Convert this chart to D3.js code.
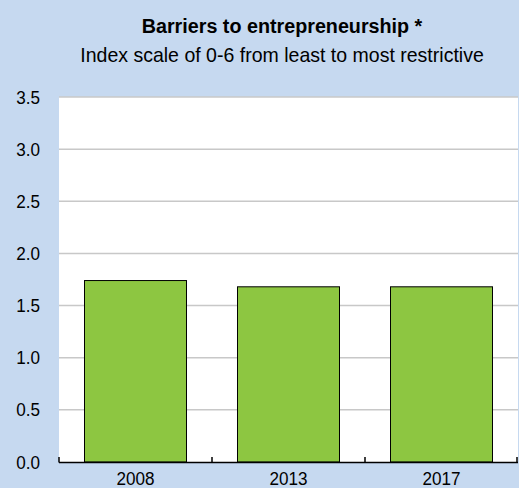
<!DOCTYPE html>
<html>
<head>
<meta charset="utf-8">
<script src="https://cdn.jsdelivr.net/npm/d3@7"></script>
<style>
    body { margin: 0; background: #c6d9f0; }
    svg { display: block; }
    text { font-family: "Liberation Sans", Arial, sans-serif; fill: #000; }
</style>
</head>
<body>
<div class="chart"></div>
<script>
const years = ["2008", "2013", "2017"];
const values = [1.74, 1.68, 1.68];
const yTicks = [0, 0.5, 1.0, 1.5, 2.0, 2.5, 3.0, 3.5];

const width = 519;
const height = 488;
const plot = {left: 59, right: 518, top: 97, bottom: 462};
const squeeze = 0.9; // the source font is a bit condensed

const svg = d3.select(".chart")
    .append("svg")
    .attr("width", width)
    .attr("height", height);

svg.append("rect")
    .attr("width", width)
    .attr("height", height)
    .attr("fill", "#c6d9f0");

// title block
svg.append("text")
    .attr("transform", "translate(282,33) scale(0.94,1)")
    .attr("text-anchor", "middle")
    .style("font-size", "21px")
    .style("font-weight", "bold")
    .text("Barriers to entrepreneurship *");

svg.append("text")
    .attr("transform", "translate(282,62) scale(0.93,1)")
    .attr("text-anchor", "middle")
    .style("font-size", "21px")
    .text("Index scale of 0-6 from least to most restrictive");

const x = d3.scaleBand()
    .domain(years)
    .range([plot.left, plot.right])
    .paddingInner(1 / 3)
    .paddingOuter(1 / 6);

const y = d3.scaleLinear()
    .domain([0, 3.5])
    .range([plot.bottom, plot.top]);

svg.append("rect")
    .attr("x", plot.left)
    .attr("y", plot.top)
    .attr("width", plot.right - plot.left)
    .attr("height", plot.bottom - plot.top)
    .attr("fill", "#fff");

// gridlines
svg.append("g")
    .selectAll("line")
    .data(yTicks.filter((d) => d > 0))
    .enter()
    .append("line")
    .attr("x1", plot.left)
    .attr("x2", plot.right)
    .attr("y1", (d) => y(d))
    .attr("y2", (d) => y(d))
    .attr("stroke", "#c8c8c8")
    .attr("stroke-width", 1.5);

// y labels, no axis line
const yAxis = svg.append("g")
    .attr("transform", `translate(${plot.left},0)`)
    .call(d3.axisLeft(y).tickValues(yTicks).tickFormat(d3.format(".1f")).tickSize(0).tickPadding(19 / squeeze));
yAxis.select(".domain").remove();
yAxis.selectAll("text")
    .attr("transform", `scale(${squeeze},1)`)
    .style("font-size", "19px")
    .style("font-family", null);

// bars
svg.append("g")
    .selectAll("rect")
    .data(values)
    .enter()
    .append("rect")
    .attr("x", (d, i) => x(years[i]))
    .attr("y", (d) => y(d))
    .attr("width", x.bandwidth())
    .attr("height", (d) => y(0) - y(d))
    .attr("fill", "#8dc641")
    .attr("stroke", "#000")
    .attr("stroke-width", 1);

// x axis with ticks at category boundaries
const step = x.step();
const bounds = d3.range(years.length + 1).map((i) => plot.left + i * step);
const xAxis = svg.append("g");
xAxis.append("line")
    .attr("x1", plot.left)
    .attr("x2", plot.right)
    .attr("y1", plot.bottom + 0.5)
    .attr("y2", plot.bottom + 0.5)
    .attr("stroke", "#000")
    .attr("stroke-width", 1.5);
xAxis.selectAll(".tick")
    .data(bounds)
    .enter()
    .append("line")
    .attr("class", "tick")
    .attr("x1", (d) => Math.min(d, plot.right - 1))
    .attr("x2", (d) => Math.min(d, plot.right - 1))
    .attr("y1", plot.bottom - 5)
    .attr("y2", plot.bottom + 0.5)
    .attr("stroke", "#000")
    .attr("stroke-width", 1.5);
xAxis.selectAll(".label")
    .data(years)
    .enter()
    .append("text")
    .attr("class", "label")
    .attr("transform", (d) => `translate(${x(d) + x.bandwidth() / 2},485) scale(${squeeze},1)`)
    .attr("text-anchor", "middle")
    .style("font-size", "19px")
    .text((d) => d);
</script>
</body>
</html>
